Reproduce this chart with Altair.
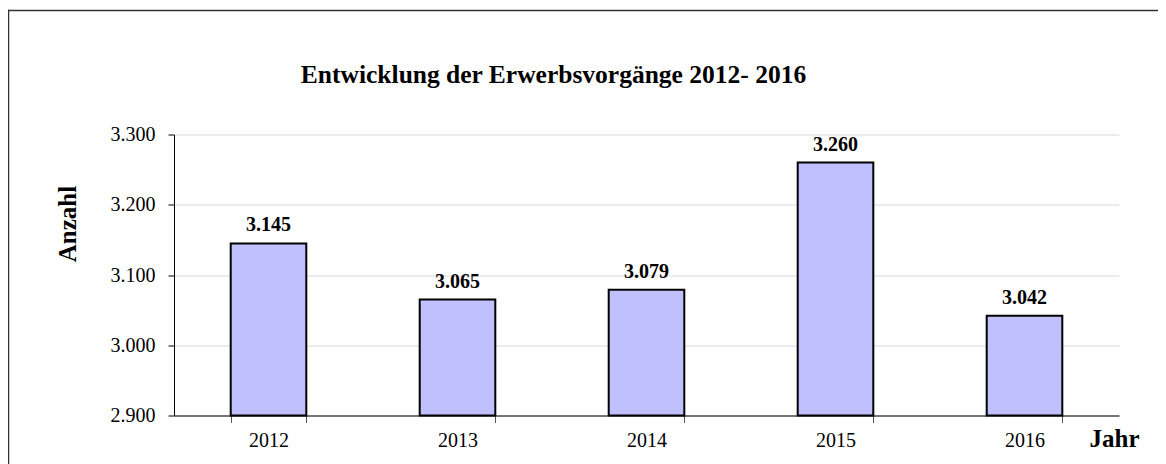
import altair as alt
import pandas as pd

years = ["2012", "2013", "2014", "2015", "2016"]
values = [3145, 3065, 3079, 3260, 3042]
y_min = 2900
y_max = 3300
y_ticks = [2900, 3000, 3100, 3200, 3300]

title_text = "Entwicklung der Erwerbsvorgänge 2012- 2016"
x_title = "Jahr"
y_title = "Anzahl"

df = pd.DataFrame({"Jahr": years, "Anzahl": values})
df["base"] = y_min

FONT = "Liberation Serif"
PW, PH = 945, 281

x_enc = alt.X(
    "Jahr:N",
    sort=years,
    scale=alt.Scale(paddingInner=0.6, paddingOuter=0.3),
    axis=alt.Axis(
        title=x_title,
        labelAngle=0,
        tickBand="extent",
        tickSize=7,
        tickColor="#555555",
        domainColor="#000000",
        labelFont=FONT,
        labelFontSize=20,
        labelColor="#000000",
        labelBaseline="alphabetic",
        labelPadding=24,
        titleFont=FONT,
        titleFontSize=25,
        titleFontWeight="bold",
        titleColor="#000000",
        titleX=940,
        titleY=31,
        titleAlign="center",
        titleBaseline="alphabetic",
        grid=False,
    ),
)

y_enc = alt.Y(
    "Anzahl:Q",
    scale=alt.Scale(domain=[y_min, y_max], zero=False, nice=False),
    axis=alt.Axis(
        title=y_title,
        values=y_ticks,
        labelExpr="replace(format(datum.value, ','), ',', '.')",
        tickSize=6,
        tickColor="#000000",
        domainColor="#000000",
        gridColor="#d9d9d9",
        gridWidth=1,
        labelFont=FONT,
        labelFontSize=20,
        labelColor="#000000",
        labelPadding=13,
        titleFont=FONT,
        titleFontSize=25,
        titleFontWeight="bold",
        titleColor="#000000",
        titleAngle=270,
        titleX=-99,
        titleY=89,
        titleAlign="center",
        titleBaseline="alphabetic",
    ),
)

bars = alt.Chart(df).mark_bar(
    color="#C0C0FF", stroke="#000000", strokeWidth=2
).encode(x=x_enc, y=y_enc, y2="base:Q")

labels = alt.Chart(df).transform_calculate(
    label="replace(format(datum.Anzahl, ','), ',', '.')"
).mark_text(
    font=FONT, fontSize=20, fontWeight="bold", color="#000000",
    baseline="alphabetic", dy=-12
).encode(x=alt.X("Jahr:N", sort=years), y="Anzahl:Q", text="label:N")

title_df = pd.DataFrame({"t": [title_text]})
title = alt.Chart(title_df).mark_text(
    font=FONT, fontSize=25.5, fontWeight="bold", color="#000000",
    align="center", baseline="alphabetic"
).encode(x=alt.value(379.5), y=alt.value(-51.5), text="t:N")

dummy = pd.DataFrame({"a": [0]})
frame_top = alt.Chart(dummy).mark_rule(
    stroke="#333333", strokeWidth=1.5
).encode(x=alt.value(-166.25), x2=alt.value(1020), y=alt.value(-124))
frame_left = alt.Chart(dummy).mark_rule(
    stroke="#333333", strokeWidth=1.5
).encode(x=alt.value(-165.5), y=alt.value(-124.75), y2=alt.value(420))

chart = alt.layer(frame_top, frame_left, bars, labels, title).properties(
    width=PW,
    height=PH,
    autosize=alt.AutoSizeParams(type="none"),
    padding={"left": 166, "top": 126.5, "right": 39, "bottom": 48},
).configure_view(stroke="transparent")

chart.save("out.html", embed_options={"renderer": "svg", "actions": False})
